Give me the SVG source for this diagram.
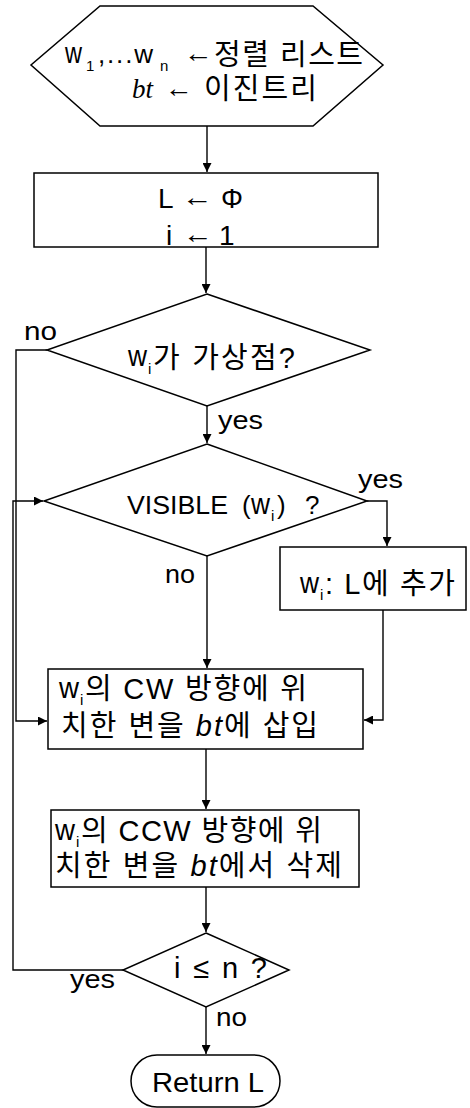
<svg xmlns="http://www.w3.org/2000/svg" width="470" height="1108" viewBox="0 0 470 1108">
<style>
.n{fill:#fff;stroke:#000;stroke-width:1.5}
.c{fill:none;stroke:#000;stroke-width:1.4}
text{font-family:"Liberation Sans","Noto Sans CJK KR",sans-serif;font-size:26px;fill:#000}
.k{font-size:29px}
.w{font-size:29px}
.b1{font-size:28px}
.lb{font-size:26px}
.s{font-size:15px}
.it{font-style:italic}
.ser{font-family:"Liberation Serif","Noto Sans CJK KR",serif;font-style:italic}
</style>
<defs>
<marker id="ah" viewBox="0 0 10 10" refX="10" refY="5" markerWidth="9" markerHeight="9" markerUnits="userSpaceOnUse" orient="auto">
<path d="M0,0L10,5L0,10z" fill="#000"/>
</marker>
</defs>
<rect width="470" height="1108" fill="#fff"/>
<g id="connectors">
<path class="c" d="M207,126V172" marker-end="url(#ah)"/>
<path class="c" d="M206,247V293" marker-end="url(#ah)"/>
<path class="c" d="M207,406V443" marker-end="url(#ah)"/>
<path class="c" d="M367,501H387V546" marker-end="url(#ah)"/>
<path class="c" d="M207,556V668" marker-end="url(#ah)"/>
<path class="c" d="M383,610V720H364" marker-end="url(#ah)"/>
<path class="c" d="M206,749V809" marker-end="url(#ah)"/>
<path class="c" d="M206,887V932" marker-end="url(#ah)"/>
<path class="c" d="M206,1007V1054" marker-end="url(#ah)"/>
<path class="c" d="M47,350H16V721H47" marker-end="url(#ah)"/>
<path class="c" d="M123,970H13V501H43" marker-end="url(#ah)"/>
<text class="lb" x="24" y="340" textLength="33" lengthAdjust="spacingAndGlyphs">no</text>
<text class="lb" x="218" y="429" textLength="45" lengthAdjust="spacingAndGlyphs">yes</text>
<text class="lb" x="358" y="488" textLength="45" lengthAdjust="spacingAndGlyphs">yes</text>
<text class="lb" x="165" y="583" textLength="30" lengthAdjust="spacingAndGlyphs">no</text>
<text class="lb" x="70" y="988" textLength="45" lengthAdjust="spacingAndGlyphs">yes</text>
<text class="lb" x="216" y="1026" textLength="31" lengthAdjust="spacingAndGlyphs">no</text>
</g>
<g id="start">
<polygon class="n" points="100,6 313,6 383,65 313,126 100,126 31,65"/>
<text class="w" x="65" y="63" textLength="17" lengthAdjust="spacingAndGlyphs">w</text>
<text class="s" x="86" y="71">1</text>
<text x="98" y="63" textLength="55" lengthAdjust="spacing">,...w</text>
<text class="s" x="160" y="71">n</text>
<text x="184" y="62" textLength="29" lengthAdjust="spacingAndGlyphs">←</text>
<text class="k" x="214" y="65" textLength="149" lengthAdjust="spacing">정렬 리스트</text>
<text class="ser" x="132" y="98" style="font-size:27px">bt</text>
<text x="165" y="97" textLength="28" lengthAdjust="spacingAndGlyphs">←</text>
<text class="k" x="204" y="99" textLength="113" lengthAdjust="spacing">이진트리</text>
</g>
<g id="init">
<rect class="n" x="34" y="173" width="344" height="74"/>
<text class="b1" x="158" y="208">L</text>
<text x="182" y="206" textLength="31" lengthAdjust="spacingAndGlyphs">←</text>
<text class="b1" x="221" y="208" textLength="22" lengthAdjust="spacingAndGlyphs">Φ</text>
<text class="b1" x="166" y="245">i</text>
<text x="183" y="243" textLength="30" lengthAdjust="spacingAndGlyphs">←</text>
<text class="b1" x="219" y="245">1</text>
</g>
<g id="virtual">
<polygon class="n" points="207,294 370,350 207,406 47,350"/>
<text class="w" x="128" y="366" textLength="19" lengthAdjust="spacingAndGlyphs">w</text>
<text class="s" x="148" y="374">i</text>
<text class="k" x="153" y="368" textLength="142" lengthAdjust="spacing">가 가상점?</text>
</g>
<g id="visible">
<polygon class="n" points="207,444 367,501 207,556 44,501"/>
<text x="127" y="514" textLength="101" lengthAdjust="spacingAndGlyphs">VISIBLE</text>
<text x="242" y="514">(</text>
<text class="w" x="251" y="514" textLength="19" lengthAdjust="spacingAndGlyphs">w</text>
<text class="s" x="271" y="521">i</text>
<text x="277" y="514">)</text>
<text x="305" y="514">?</text>
</g>
<g id="addL">
<rect class="n" x="280" y="547" width="186" height="63"/>
<text class="w" x="300" y="593" textLength="19" lengthAdjust="spacingAndGlyphs">w</text>
<text class="s" x="320" y="600">i</text>
<text class="k" x="325" y="594" textLength="130" lengthAdjust="spacing">: L에 추가</text>
</g>
<g id="insert">
<rect class="n" x="48" y="669" width="315" height="80"/>
<text class="w" x="59" y="698" textLength="20" lengthAdjust="spacingAndGlyphs">w</text>
<text class="s" x="80" y="705">i</text>
<text class="k" x="85" y="699" textLength="222" lengthAdjust="spacing">의 CW 방향에 위</text>
<text class="k" x="61" y="736" textLength="257" lengthAdjust="spacing">치한 변을 <tspan class="it">bt</tspan>에 삽입</text>
</g>
<g id="delete">
<rect class="n" x="51" y="810" width="308" height="77"/>
<text class="w" x="55" y="840" textLength="20" lengthAdjust="spacingAndGlyphs">w</text>
<text class="s" x="76" y="847">i</text>
<text class="k" x="81" y="841" textLength="241" lengthAdjust="spacing">의 CCW 방향에 위</text>
<text class="k" x="55" y="876" textLength="287" lengthAdjust="spacing">치한 변을 <tspan class="it">bt</tspan>에서 삭제</text>
</g>
<g id="loop">
<polygon class="n" points="206,933 289,970 206,1007 123,970"/>
<text x="174" y="978" style="font-size:29px" textLength="93" lengthAdjust="spacing">i ≤ n ?</text>
</g>
<g id="end">
<rect class="n" x="131" y="1055" width="149" height="52" rx="26" ry="26"/>
<text x="152" y="1092" style="font-size:28px" textLength="112" lengthAdjust="spacingAndGlyphs">Return L</text>
</g>
</svg>
